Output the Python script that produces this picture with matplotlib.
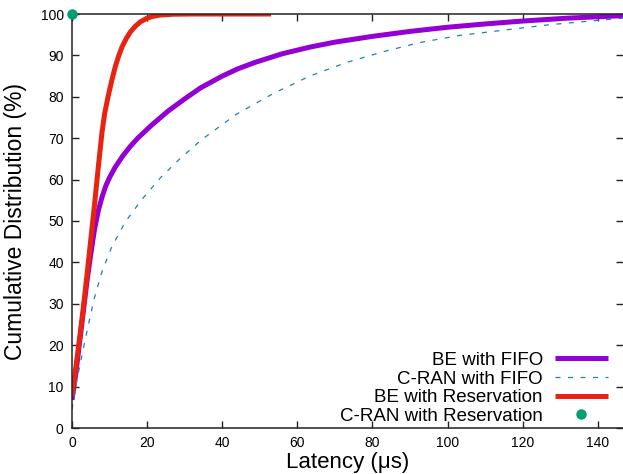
import matplotlib
matplotlib.use("Agg")
import matplotlib.pyplot as plt

plt.rcParams['font.family'] = ['Liberation Sans', 'DejaVu Sans']

# BE with FIFO
be_fifo_x = [0, 1.0, 2.0, 3.0, 4.0, 5.0, 6.0, 7.0, 8.0, 9.0, 10, 11.5, 13.5, 15.5, 17.5, 21, 25.5, 30, 34.3,
             40, 44, 48.7, 56, 63.3, 70, 80, 90, 100, 110, 120, 132, 146.7]
be_fifo_y = [6.8, 13, 20.5, 28, 35.5, 42, 48, 52.5, 55.8, 58.5, 60.5, 63, 65.7, 68, 70, 73, 76.5, 79.5, 82.2,
             85.0, 86.7, 88.3, 90.4, 92.0, 93.2, 94.6, 95.8, 96.8, 97.6, 98.3, 99.0, 99.6]

# C-RAN with FIFO
cran_fifo_x = [0, 1.3, 3.5, 5.8, 8.0, 10.6, 14.2, 18.6, 23.5, 28.8, 34.6, 43.8, 53.6, 63.3, 73.1, 82.9,
               92.6, 103, 114, 127, 140.5, 146.7]
cran_fifo_y = [4.5, 11.6, 21.3, 30.9, 37.8, 43.8, 49.8, 55.2, 60.4, 65.1, 69.7, 75.8, 80.8, 85.0, 88.3, 90.9,
               93.1, 94.8, 96.0, 97.4, 98.5, 99.0]

# BE with Reservation
be_res_x = [0, 1, 2, 3, 4, 5, 6, 7, 8, 8.7, 9.6, 10.5, 11.5, 12.4, 13.3, 14.4, 15.5, 16.8, 18.2, 19.8,
            21.3, 23.5, 27, 32, 53]
be_res_y = [8, 14.5, 21.5, 29, 37, 45.5, 54, 63, 71.5, 76, 80, 83.6, 87.2, 89.8, 92, 94, 95.6, 97, 98.1, 98.9,
            99.4, 99.75, 99.95, 100, 100]

# C-RAN with Reservation
cran_res_x = [0]
cran_res_y = [100]

x_ticks = [0, 20, 40, 60, 80, 100, 120, 140]
y_ticks = [0, 10, 20, 30, 40, 50, 60, 70, 80, 90, 100]

fig = plt.figure(figsize=(6.23, 4.74), dpi=100)
ax = fig.add_axes([72/623, 1 - 428/474, 1 - 72/623, (428 - 14)/474])

ax.plot(be_fifo_x, be_fifo_y, color='#9400D3', lw=3.6, label='BE with FIFO',
        solid_capstyle='butt', solid_joinstyle='round')
ax.plot(cran_fifo_x, cran_fifo_y, color='#1a80c4', lw=0.9, dashes=(4, 6), label='C-RAN with FIFO')
ax.plot(be_res_x, be_res_y, color='#E8230F', lw=3.6, label='BE with Reservation',
        solid_capstyle='butt', solid_joinstyle='round')
ax.plot(cran_res_x, cran_res_y, 'o', color='#009E73', ms=6.5, label='C-RAN with Reservation',
        clip_on=False, zorder=5)

ax.set_xlim(0, 146.7)
ax.set_ylim(0, 100)
ax.set_xticks(x_ticks)
ax.set_yticks(y_ticks)
ax.tick_params(direction='in', length=5, width=1, top=True, right=True, labelsize=10,
               colors='#222222', labelcolor='black', pad=6)
for s in ['left', 'bottom', 'top']:
    ax.spines[s].set_linewidth(1.1)
    ax.spines[s].set_color('#222222')
ax.spines['right'].set_visible(False)

ax.set_xlabel('Latency (μs)', fontsize=16, labelpad=1)
ax.set_ylabel('Cumulative Distribution (%)', fontsize=16.5, labelpad=10)

leg = ax.legend(loc='lower right', bbox_to_anchor=(0.996, -0.024), frameon=False, markerfirst=False,
                fontsize=13.5, handlelength=2.8, handletextpad=0.65, labelspacing=0.08, borderpad=0.2)

fig.savefig('out.png', dpi=100)
